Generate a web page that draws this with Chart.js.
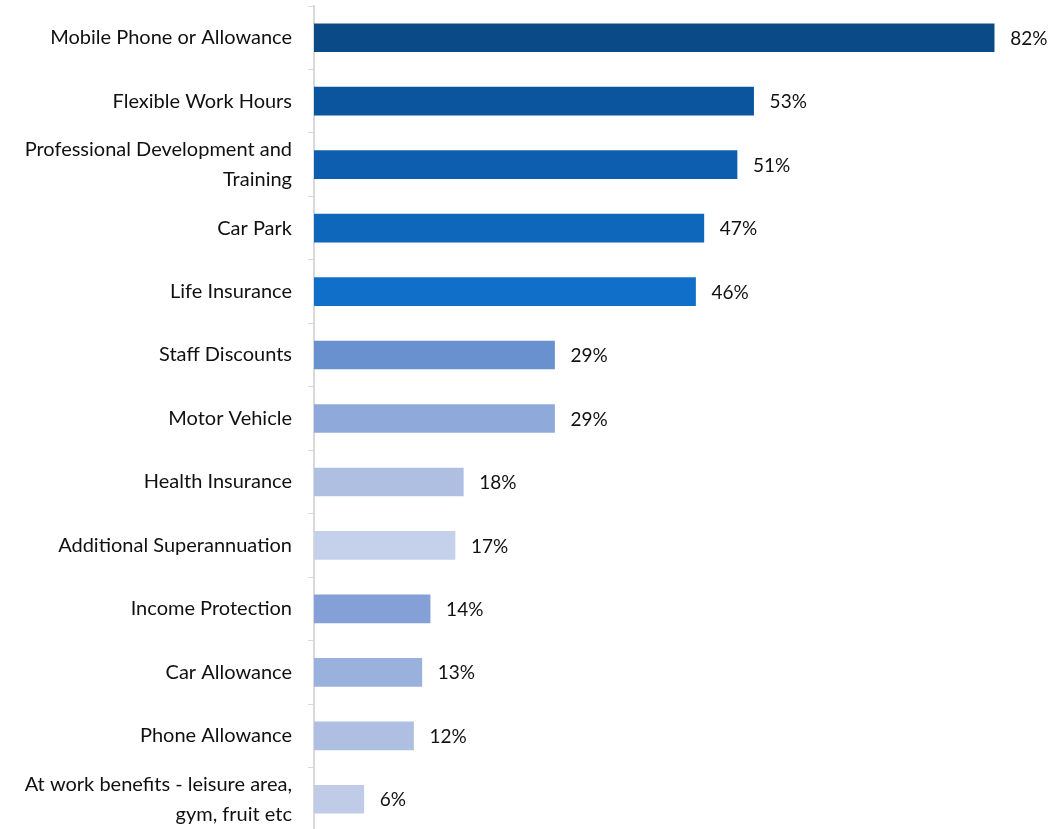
<!DOCTYPE html>
<html>
<head>
<meta charset="utf-8">
<script src="https://cdn.jsdelivr.net/npm/chart.js@4"></script>
<style>
  html, body { margin: 0; padding: 0; background: #fff; overflow: hidden; }
  #wrap { width: 1063px; height: 835px; }
</style>
</head>
<body>
<div id="wrap"><canvas id="benefitsChart" width="1063" height="835"></canvas></div>
<script>
// Benefits offered (% of respondents)
const categories = [
  "Mobile Phone or Allowance",
  "Flexible Work Hours",
  ["Professional Development and", "Training"],
  "Car Park",
  "Life Insurance",
  "Staff Discounts",
  "Motor Vehicle",
  "Health Insurance",
  "Additional Superannuation",
  "Income Protection",
  "Car Allowance",
  "Phone Allowance",
  ["At work benefits - leisure area,", "gym, fruit etc"],
]
const percentValues = [82, 53, 51, 47, 46, 29, 29, 18, 17, 14, 13, 12, 6]
const barColors = [
  "#094A87", "#0B559F", "#0D5EAE", "#0E67BA", "#1070C9",
  "#6990CF", "#8FAADA", "#AEBFE2", "#C5D1EA", "#84A0D6",
  "#9AB0DD", "#AEBFE2", "#C0CCE7",
]

// draws "82%" etc. just past the end of each bar
const valueLabels = {
  id: "valueLabels",
  afterDatasetsDraw(chart) {
    const ctx = chart.ctx
    const meta = chart.getDatasetMeta(0)
    ctx.save()
    ctx.font = "19px Lato, sans-serif"
    ctx.fillStyle = "#111"
    ctx.textBaseline = "middle"
    ctx.textAlign = "left"
    meta.data.forEach((bar, i) => {
      ctx.fillText(percentValues[i] + "%", bar.x + 16, bar.y + 1)
    })
    ctx.restore()
  },
}

new Chart(document.getElementById("benefitsChart"), {
  type: "bar",
  data: {
    labels: categories,
    datasets: [
      {
        data: percentValues,
        backgroundColor: barColors,
        barThickness: 28,
        borderWidth: 0,
      },
    ],
  },
  options: {
    indexAxis: "y",
    responsive: false,
    animation: false,
    layout: {
      padding: { top: 6, bottom: 4, left: 0, right: 0 },
    },
    plugins: {
      legend: { display: false },
      tooltip: { enabled: false },
    },
    scales: {
      x: {
        display: false,
        min: 0,
        max: 90.3,
      },
      y: {
        afterFit: (scale) => {
          scale.width = 314
          // let the two-line end labels hang outside the plot like the original
          scale.paddingTop = 0
          scale.paddingBottom = 0
        },
        border: {
          color: "#d9d9d9",
          width: 2,
        },
        grid: {
          offset: true,
          drawOnChartArea: false,
          color: "#d9d9d9",
          tickLength: 6,
        },
        ticks: {
          padding: 16,
          color: "#111",
          font: { family: "Lato, sans-serif", size: 20, lineHeight: 1.48 },
        },
      },
    },
  },
  plugins: [valueLabels],
})
</script>
</body>
</html>
